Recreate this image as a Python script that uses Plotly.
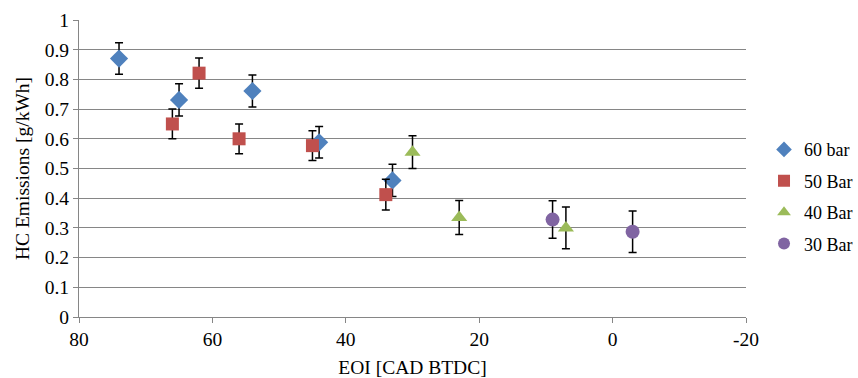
import plotly.graph_objects as go

# Data
eoi_60 = [74, 65, 54, 44, 33]
hc_60 = [0.870, 0.731, 0.761, 0.588, 0.460]
err_60 = [0.053, 0.054, 0.054, 0.053, 0.054]

eoi_50 = [66, 62, 56, 45, 34]
hc_50 = [0.650, 0.821, 0.600, 0.577, 0.412]
err_50 = [0.050, 0.051, 0.050, 0.050, 0.052]

eoi_40 = [30, 23, 7]
hc_40 = [0.555, 0.335, 0.300]
err_40 = [0.055, 0.057, 0.070]

eoi_30 = [9, -3]
hc_30 = [0.328, 0.287]
err_30 = [0.063, 0.070]

series = [
    ("60 bar", eoi_60, hc_60, err_60, "diamond", "#4F81BD", 14),
    ("50 Bar", eoi_50, hc_50, err_50, "square", "#C0504D", 13),
    ("40 Bar", eoi_40, hc_40, err_40, "triangle-up", "#9BBB59", 14),
    ("30 Bar", eoi_30, hc_30, err_30, "circle", "#8064A2", 14),
]

fig = go.Figure()
for name, xs, ys, es, sym, col, sz in series:
    fig.add_trace(go.Scatter(
        x=xs, y=ys, mode="markers", name=name, legendgroup=name,
        marker=dict(symbol=sym, color=col, size=sz, line=dict(width=0)),
        error_y=dict(type="data", array=es, visible=True, color="black",
                     thickness=1.5, width=4),
    ))

font_family = "Times New Roman"
fs = 19.5
fig.update_layout(
    width=858, height=378,
    margin=dict(l=79, r=112, t=20, b=61, autoexpand=False),
    paper_bgcolor="white", plot_bgcolor="white",
    font=dict(family=font_family, size=fs, color="black"),
    showlegend=True,
    legend=dict(x=1.027, xanchor="left", y=0.405, yanchor="middle",
                font=dict(family=font_family, size=18, color="black"),
                tracegroupgap=5, itemwidth=30,
                itemsizing="constant", bgcolor="rgba(0,0,0,0)"),
    xaxis=dict(
        range=[80, -20], tickmode="array",
        tickvals=[80, 60, 40, 20, 0, -20],
        ticktext=["80", "60", "40", "20", "0", "-20"],
        showgrid=False, zeroline=False,
        showline=True, linecolor="#868686", linewidth=1,
        ticks="outside", ticklen=5, tickcolor="#868686",
        title=dict(text="EOI [CAD BTDC]", standoff=10,
                   font=dict(family=font_family, size=fs)),
        tickfont=dict(family=font_family, size=fs),
    ),
    yaxis=dict(
        range=[0, 1], tickmode="array",
        tickvals=[0, 0.1, 0.2, 0.3, 0.4, 0.5, 0.6, 0.7, 0.8, 0.9, 1],
        ticktext=["0", "0.1", "0.2", "0.3", "0.4", "0.5", "0.6", "0.7", "0.8", "0.9", "1"],
        showgrid=True, gridcolor="#868686", gridwidth=1,
        zeroline=False,
        showline=True, linecolor="#868686", linewidth=1,
        ticks="outside", ticklen=5, tickcolor="#868686",
        title=dict(text="HC Emissions [g/kWh]", standoff=9,
                   font=dict(family=font_family, size=fs)),
        tickfont=dict(family=font_family, size=fs),
    ),
)

fig.write_html("out.html")
